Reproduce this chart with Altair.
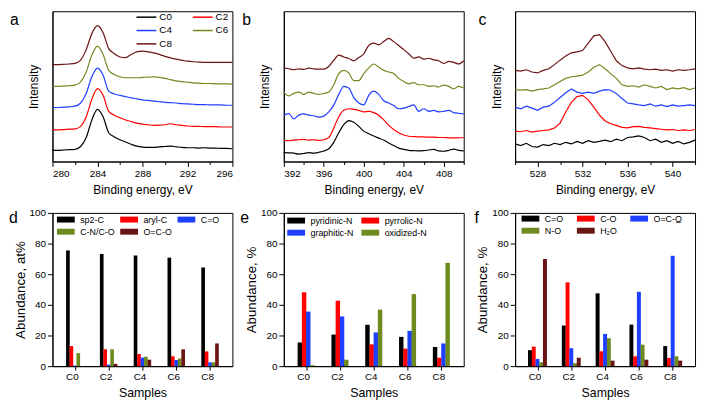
import altair as alt
import pandas as pd

FONT = "Liberation Sans"
COLORS = ["#000000", "#FF0000", "#1F3FFF", "#6F8B1F", "#6B1414"]
SAMPLES = ["C0", "C2", "C4", "C6", "C8"]

# ---- XPS spectra: readings = depth of the trace below the panel top (arbitrary units) ----
E_C1S = [280.0, 280.5, 281.0, 281.5, 282.0, 282.5, 283.0, 283.5, 284.0, 284.5, 285.0,
         285.5, 286.0, 286.5, 287.0, 287.5, 288.0, 288.5, 289.0, 289.5, 290.0, 290.5,
         291.0, 291.5, 292.0, 292.5, 293.0, 293.5, 294.0, 294.5, 295.0, 295.5, 296.0]
C1S = {
    "C0": [440, 440, 439, 438, 437, 428, 400, 345, 312, 335, 385, 398, 407, 414, 421, 427, 430,
           431, 431, 429, 428, 427, 429, 431, 432, 432, 433, 432, 433, 433, 434, 434, 435],
    "C2": [375, 376, 375, 374, 373, 365, 335, 280, 247, 268, 318, 330, 338, 345, 350, 355, 358,
           360, 362, 361, 360, 357, 360, 362, 364, 365, 365, 366, 366, 366, 367, 367, 367],
    "C4": [306, 306, 305, 304, 302, 292, 262, 210, 183, 205, 255, 264, 268, 272, 276, 279, 282,
           284, 286, 288, 290, 291, 292, 294, 295, 296, 297, 297, 298, 298, 298, 299, 299],
    "C6": [240, 240, 239, 238, 236, 226, 195, 142, 114, 140, 190, 203, 210, 213, 213, 213, 212,
           211, 210, 212, 215, 219, 223, 225, 227, 229, 230, 231, 231, 232, 232, 232, 233],
    "C8": [172, 172, 171, 170, 168, 158, 125, 75, 50, 72, 122, 138, 148, 150, 140, 132, 130,
           132, 135, 140, 146, 151, 155, 158, 161, 163, 164, 165, 165, 165, 165, 165, 165],
}

E_N1S = [392.0, 392.5, 393.0, 393.5, 394.0, 394.5, 395.0, 395.5, 396.0, 396.5, 397.0, 397.5,
         398.0, 398.5, 399.0, 399.5, 400.0, 400.5, 401.0, 401.5, 402.0, 402.5, 403.0, 403.5,
         404.0, 404.5, 405.0, 405.5, 406.0, 406.5, 407.0, 407.5, 408.0, 408.5, 409.0, 409.5, 410.0]
N1S = {
    "C0": [447, 448, 449, 452, 450, 447, 449, 446, 442, 435, 415, 385, 360, 347, 352, 365, 380,
           388, 395, 402, 408, 417, 425, 433, 437, 440, 441, 442, 441, 439, 437, 442, 443, 440,
           436, 440, 442],
    "C2": [409, 410, 408, 407, 406, 408, 407, 409, 407, 400, 370, 335, 315, 310, 312, 315, 320,
           318, 322, 330, 345, 362, 375, 385, 392, 396, 397, 398, 398, 399, 399, 400, 400, 401,
           401, 401, 400],
    "C4": [330, 325, 342, 330, 326, 330, 332, 336, 333, 320, 298, 265, 240, 245, 275, 292, 298,
           268, 255, 265, 285, 292, 300, 310, 308, 303, 298, 318, 310, 318, 315, 320, 318, 315,
           322, 324, 326],
    "C6": [258, 270, 262, 258, 265, 258, 262, 265, 262, 258, 235, 200, 190, 198, 222, 222, 200,
           182, 170, 180, 190, 195, 200, 215, 225, 232, 228, 235, 235, 240, 238, 242, 236, 240,
           248, 240, 245],
    "C8": [182, 185, 188, 185, 187, 183, 185, 186, 186, 178, 158, 142, 148, 153, 160, 150, 138,
           112, 105, 110, 100, 90, 100, 112, 125, 138, 152, 148, 155, 152, 157, 160, 168, 162,
           165, 170, 160],
}

E_O1S = [526.0, 526.5, 527.0, 527.5, 528.0, 528.5, 529.0, 529.5, 530.0, 530.5, 531.0,
         531.5, 532.0, 532.5, 533.0, 533.5, 534.0, 534.5, 535.0, 535.5, 536.0, 536.5,
         537.0, 537.5, 538.0, 538.5, 539.0, 539.5, 540.0, 540.5, 541.0, 541.5, 542.0]
O1S = {
    "C0": [420, 425, 418, 428, 430, 422, 425, 418, 422, 415, 420, 412, 418, 410, 415, 412, 408,
           413, 405, 410, 400, 398, 395, 400, 410, 405, 415, 410, 418, 412, 420, 415, 408],
    "C2": [380, 382, 378, 383, 380, 378, 376, 370, 355, 320, 290, 272, 268, 282, 305, 330, 348,
           357, 362, 368, 370, 366, 365, 368, 370, 372, 374, 376, 375, 378, 376, 378, 375],
    "C4": [305, 310, 302, 308, 315, 305, 302, 290, 275, 260, 248, 258, 262, 258, 262, 255, 250,
           252, 262, 278, 292, 295, 298, 300, 295, 302, 298, 303, 298, 302, 300, 298, 300],
    "C6": [250, 252, 250, 255, 250, 248, 245, 235, 225, 215, 210, 208, 205, 195, 180, 172, 185,
           200, 215, 235, 240, 238, 242, 235, 240, 245, 240, 250, 245, 248, 244, 250, 245],
    "C8": [190, 192, 188, 195, 198, 190, 185, 172, 158, 145, 135, 132, 128, 105, 82, 78, 100,
           130, 160, 175, 182, 185, 182, 186, 188, 186, 190, 188, 192, 188, 190, 188, 185],
}
PANEL_TOP = 480  # readings are measured downward from this level

# ---- composition bars ----
C_COMPS = ["sp2-C", "aryl-C", "C=O", "C-N/C-O", "O=C-O"]
C_VALUES = {
    "sp2-C": [75.5, 73.2, 72.2, 70.8, 64.4],
    "aryl-C": [13.1, 11.0, 7.9, 6.4, 9.6],
    "C=O": [0.4, 1.0, 5.6, 4.0, 2.5],
    "C-N/C-O": [8.5, 11.0, 6.1, 5.0, 2.5],
    "O=C-O": [0.0, 1.5, 4.2, 11.0, 14.8],
}
N_COMPS = ["pyridinic-N", "pyrrolic-N", "graphitic-N", "oxidized-N"]
N_VALUES = {
    "pyridinic-N": [15.4, 20.6, 27.0, 19.1, 12.5],
    "pyrrolic-N": [48.2, 42.7, 14.2, 11.4, 5.5],
    "graphitic-N": [35.6, 32.4, 22.0, 23.0, 14.8],
    "oxidized-N": [0.6, 4.2, 36.9, 47.0, 67.4],
}
O_COMPS = ["C=O", "C-O", "O=C-O\u0332", "N-O", "H\u2082O"]
O_VALUES = {
    "C=O": [10.4, 26.5, 47.5, 27.1, 13.1],
    "C-O": [12.7, 54.7, 9.7, 6.4, 5.3],
    "O=C-O\u0332": [4.7, 11.7, 21.0, 48.5, 72.0],
    "N-O": [2.5, 1.9, 18.2, 14.0, 6.4],
    "H\u2082O": [70.0, 5.5, 3.6, 4.2, 3.6],
}

W = 182
H_TOP = 152
H_BOT = 155
X_DOMAIN = [-0.515, 4.515]          # category axis range (sample index units)
PX_PER_UNIT = W / (X_DOMAIN[1] - X_DOMAIN[0])


def letter_layer(letter, dx, dy):
    return alt.Chart(pd.DataFrame({"letter": [letter]})).mark_text(
        align="left", baseline="alphabetic", fontSize=16, font=FONT, color="black"
    ).encode(x=alt.value(dx), y=alt.value(dy), text="letter:N")


def spectrum_panel(energies, readings, domain, letter, ldx, interp, show_legend):
    rows = []
    for s in SAMPLES:
        for e, r in zip(energies, readings[s]):
            rows.append({"energy": e, "intensity": PANEL_TOP - r, "sample": s})
    df = pd.DataFrame(rows)
    ticks = list(range(domain[0], domain[1] + 1, 2))
    if show_legend:
        legend = alt.Legend(
            title=None, orient="none", legendX=84, legendY=0, columns=2, direction="horizontal",
            columnPadding=18, rowPadding=2.5, symbolType="M-1,0H3", symbolSize=100,
            symbolStrokeWidth=1.5, labelOffset=12, labelFontSize=10, padding=0,
        )
    else:
        legend = None
    lines = alt.Chart(df).mark_line(strokeWidth=1.2, interpolate=interp).encode(
        x=alt.X(
            "energy:Q",
            scale=alt.Scale(domain=domain, nice=False, zero=False),
            axis=alt.Axis(
                values=ticks, title="Binding energy, eV", titleFontSize=12,
                labelExpr="datum.value % 4 === 0 ? datum.label : ''",
                tickSize={"condition": {"test": "datum.value % 4 === 0", "value": 5}, "value": 3},
                labelFontSize=10, labelPadding=2, titlePadding=6,
            ),
        ),
        y=alt.Y(
            "intensity:Q",
            scale=alt.Scale(domain=[5, 475], nice=False, zero=False),
            axis=alt.Axis(title="Intensity", labels=False, ticks=False, titleFontSize=12,
                          titlePadding=12),
        ),
        color=alt.Color("sample:N", scale=alt.Scale(domain=SAMPLES, range=COLORS),
                        legend=legend),
        detail="sample:N",
    )
    return alt.layer(lines, letter_layer(letter, ldx, 14)).properties(width=W, height=H_TOP)


def bar_panel(comps, values, ytitle, letter, ldx, columns, lx, ly, colpad, bar_px):
    rows = []
    for ci, c in enumerate(comps):
        for si, (s, v) in enumerate(zip(SAMPLES, values[c])):
            rows.append({"sample": s, "si": si, "comp": c, "ci": ci, "value": v})
    df = pd.DataFrame(rows)
    n = len(comps)
    step = bar_px / PX_PER_UNIT
    legend = alt.Legend(
        title=None, orient="none", legendX=lx, legendY=ly, columns=columns,
        direction="horizontal",
        columnPadding=colpad, rowPadding=2.5, symbolType="M-1,-1H5V1H-1Z", symbolSize=36,
        symbolStrokeWidth=0, labelOffset=16, labelFontSize=9, padding=0,
    )
    label_expr = "[" + ",".join(f"'{s}'" for s in SAMPLES) + "][datum.value]"
    bars = alt.Chart(df).transform_calculate(
        pos=f"datum.si + (datum.ci - {(n - 1) / 2}) * {step}"
    ).mark_bar(size=bar_px).encode(
        x=alt.X(
            "pos:Q",
            scale=alt.Scale(domain=X_DOMAIN, nice=False, zero=False),
            axis=alt.Axis(title="Samples", values=[0, 1, 2, 3, 4], labelExpr=label_expr,
                          tickSize=4, labelFontSize=10, labelPadding=2, titlePadding=5,
                          titleFontSize=12.5, labelOffset=-3),
        ),
        y=alt.Y(
            "value:Q", scale=alt.Scale(domain=[0, 100], nice=False),
            axis=alt.Axis(values=[0, 20, 40, 60, 80, 100], title=ytitle, titleFontSize=13.5,
                          labelFontSize=10, tickSize=5, labelPadding=2, titlePadding=2),
        ),
        color=alt.Color("comp:N", sort=comps,
                        scale=alt.Scale(domain=comps, range=COLORS[:n]),
                        legend=legend),
    )
    return alt.layer(bars, letter_layer(letter, ldx, 10)).properties(width=W, height=H_BOT)


pa = spectrum_panel(E_C1S, C1S, [280, 296], "a", -43, "monotone", True)
pb = spectrum_panel(E_N1S, N1S, [392, 410], "b", -42, "monotone", False)
pc = spectrum_panel(E_O1S, O1S, [526, 542], "c", -37, "linear", False)
pd_ = bar_panel(C_COMPS, C_VALUES, "Abundance, at%", "d", -44, 3, 3, 2, 4, 3.7)
pe = bar_panel(N_COMPS, N_VALUES, "Abundance, %", "e", -44, 2, 2, 3, 6, 4.5)
pf = bar_panel(O_COMPS, O_VALUES, "Abundance, %", "f", -41, 3, 5, 1, 12, 4.0)

chart = alt.concat(
    pa, pb, pc, pd_, pe, pf, columns=3, spacing=52, bounds="flush"
).resolve_scale(color="independent").resolve_legend(color="independent").properties(
    padding=0
).configure_view(stroke="black", strokeWidth=1).configure_axis(
    domainColor="black", tickColor="black", labelColor="black", titleColor="black",
    labelFont=FONT, titleFont=FONT, titleFontWeight="normal", grid=False,
).configure_legend(labelFont=FONT, labelColor="black")

chart.save("out.html", embed_options={"renderer": "svg", "actions": False})
